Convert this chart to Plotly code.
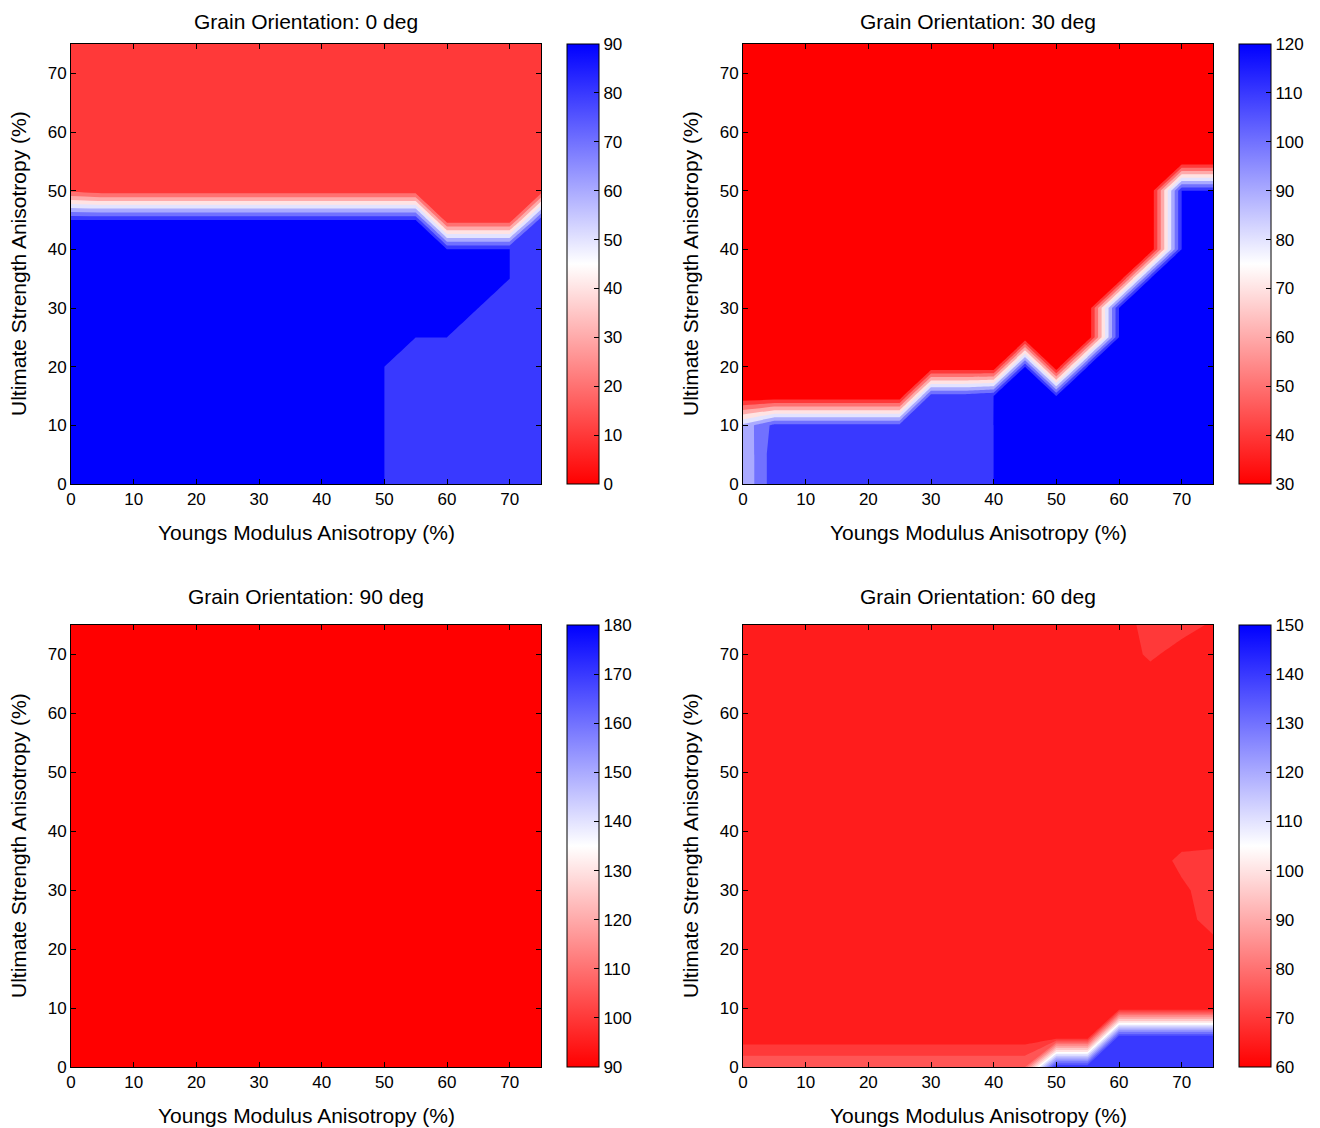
import plotly.graph_objects as go

W, H = 1320, 1128

# grid (percent)
x_grid = [0, 5, 10, 15, 20, 25, 30, 35, 40, 45, 50, 55, 60, 65, 70, 75]
y_grid = [0, 5, 10, 15, 20, 25, 30, 35, 40, 45, 50, 55, 60, 65, 70, 75]

x_ticks = [0, 10, 20, 30, 40, 50, 60, 70]
y_ticks = [0, 10, 20, 30, 40, 50, 60, 70]

# rows go from y=0 (first) to y=75 (last); columns x=0..75
z_0deg = [
    [90.01, 90.01, 90.01, 90.01, 90.01, 90.01, 90.01, 90.01, 90.01, 90.01, 90.01, 85, 85, 85, 85, 85],
    [90.01, 90.01, 90.01, 90.01, 90.01, 90.01, 90.01, 90.01, 90.01, 90.01, 90.01, 85, 85, 85, 85, 85],
    [90.01, 90.01, 90.01, 90.01, 90.01, 90.01, 90.01, 90.01, 90.01, 90.01, 90.01, 85, 85, 85, 85, 85],
    [90.01, 90.01, 90.01, 90.01, 90.01, 90.01, 90.01, 90.01, 90.01, 90.01, 90.01, 85, 85, 85, 85, 85],
    [90.01, 90.01, 90.01, 90.01, 90.01, 90.01, 90.01, 90.01, 90.01, 90.01, 90.01, 85, 85, 85, 85, 85],
    [90.01, 90.01, 90.01, 90.01, 90.01, 90.01, 90.01, 90.01, 90.01, 90.01, 90.01, 90.01, 90.01, 85, 85, 85],
    [90.01, 90.01, 90.01, 90.01, 90.01, 90.01, 90.01, 90.01, 90.01, 90.01, 90.01, 90.01, 90.01, 90.01, 85, 85],
    [90.01, 90.01, 90.01, 90.01, 90.01, 90.01, 90.01, 90.01, 90.01, 90.01, 90.01, 90.01, 90.01, 90.01, 90.01, 85],
    [90.01, 90.01, 90.01, 90.01, 90.01, 90.01, 90.01, 90.01, 90.01, 90.01, 90.01, 90.01, 90.01, 90.01, 90.01, 85],
    [90.01, 90.01, 90.01, 90.01, 90.01, 90.01, 90.01, 90.01, 90.01, 90.01, 90.01, 90.01, 13, 13, 13, 86],
    [17, 13, 13, 13, 13, 13, 13, 13, 13, 13, 13, 13, 13, 13, 13, 13],
    [17, 13, 13, 13, 13, 13, 13, 13, 13, 13, 13, 13, 13, 13, 13, 13],
    [17, 13, 13, 13, 13, 13, 13, 13, 13, 13, 13, 13, 13, 13, 13, 13],
    [17, 13, 13, 13, 13, 13, 13, 13, 13, 13, 13, 13, 13, 13, 13, 13],
    [17, 13, 13, 13, 13, 13, 13, 13, 13, 13, 13, 13, 13, 13, 13, 13],
    [17, 13, 13, 13, 13, 13, 13, 13, 13, 13, 13, 13, 13, 13, 13, 13],
]

z_30deg = [
    [91, 116, 116, 116, 116, 116, 116, 116, 120.01, 120.01, 120.01, 120.01, 120.01, 120.01, 120.01, 120.01],
    [91, 116, 116, 116, 116, 116, 116, 116, 120.01, 120.01, 120.01, 120.01, 120.01, 120.01, 120.01, 120.01],
    [93, 113, 113, 113, 113, 113, 116, 116, 120.01, 120.01, 120.01, 120.01, 120.01, 120.01, 120.01, 120.01],
    [30, 30, 30, 30, 30, 30, 115, 115, 120.01, 120.01, 120.01, 120.01, 120.01, 120.01, 120.01, 120.01],
    [30, 30, 30, 30, 30, 30, 30, 30, 30, 120.01, 30, 120.01, 120.01, 120.01, 120.01, 120.01],
    [30, 30, 30, 30, 30, 30, 30, 30, 30, 30, 30, 30, 120.01, 120.01, 120.01, 120.01],
    [30, 30, 30, 30, 30, 30, 30, 30, 30, 30, 30, 30, 120.01, 120.01, 120.01, 120.01],
    [30, 30, 30, 30, 30, 30, 30, 30, 30, 30, 30, 30, 30, 120.01, 120.01, 120.01],
    [30, 30, 30, 30, 30, 30, 30, 30, 30, 30, 30, 30, 30, 30, 120.01, 120.01],
    [30, 30, 30, 30, 30, 30, 30, 30, 30, 30, 30, 30, 30, 30, 120.01, 120.01],
    [30, 30, 30, 30, 30, 30, 30, 30, 30, 30, 30, 30, 30, 30, 120.01, 120.01],
    [30, 30, 30, 30, 30, 30, 30, 30, 30, 30, 30, 30, 30, 30, 30, 30],
    [30, 30, 30, 30, 30, 30, 30, 30, 30, 30, 30, 30, 30, 30, 30, 30],
    [30, 30, 30, 30, 30, 30, 30, 30, 30, 30, 30, 30, 30, 30, 30, 30],
    [30, 30, 30, 30, 30, 30, 30, 30, 30, 30, 30, 30, 30, 30, 30, 30],
    [30, 30, 30, 30, 30, 30, 30, 30, 30, 30, 30, 30, 30, 30, 30, 30],
]

z_90deg = [
    [90, 90, 90, 90, 90, 90, 90, 90, 90, 90, 90, 90, 90, 90, 90, 90],
    [90, 90, 90, 90, 90, 90, 90, 90, 90, 90, 90, 90, 90, 90, 90, 90],
    [90, 90, 90, 90, 90, 90, 90, 90, 90, 90, 90, 90, 90, 90, 90, 90],
    [90, 90, 90, 90, 90, 90, 90, 90, 90, 90, 90, 90, 90, 90, 90, 90],
    [90, 90, 90, 90, 90, 90, 90, 90, 90, 90, 90, 90, 90, 90, 90, 90],
    [90, 90, 90, 90, 90, 90, 90, 90, 90, 90, 90, 90, 90, 90, 90, 90],
    [90, 90, 90, 90, 90, 90, 90, 90, 90, 90, 90, 90, 90, 90, 90, 90],
    [90, 90, 90, 90, 90, 90, 90, 90, 90, 90, 90, 90, 90, 90, 90, 90],
    [90, 90, 90, 90, 90, 90, 90, 90, 90, 90, 90, 90, 90, 90, 90, 90],
    [90, 90, 90, 90, 90, 90, 90, 90, 90, 90, 90, 90, 90, 90, 90, 90],
    [90, 90, 90, 90, 90, 90, 90, 90, 90, 90, 90, 90, 90, 90, 90, 90],
    [90, 90, 90, 90, 90, 90, 90, 90, 90, 90, 90, 90, 90, 90, 90, 90],
    [90, 90, 90, 90, 90, 90, 90, 90, 90, 90, 90, 90, 90, 90, 90, 90],
    [90, 90, 90, 90, 90, 90, 90, 90, 90, 90, 90, 90, 90, 90, 90, 90],
    [90, 90, 90, 90, 90, 90, 90, 90, 90, 90, 90, 90, 90, 90, 90, 90],
    [90, 90, 90, 90, 90, 90, 90, 90, 90, 90, 90, 90, 90, 90, 90, 90],
]

z_60deg = [
    [79.9, 79.9, 79.9, 79.9, 79.9, 79.9, 79.9, 79.9, 79.9, 79.9, 144.9, 144.9, 143, 143, 143, 143],
    [67, 67, 67, 67, 67, 67, 67, 67, 67, 67, 67, 67, 144.5, 144.5, 144.5, 144.5],
    [67, 67, 67, 67, 67, 67, 67, 67, 67, 67, 67, 67, 65.5, 65.5, 65.5, 65.5],
    [67, 67, 67, 67, 67, 67, 67, 67, 67, 67, 67, 67, 67, 67, 67, 67],
    [67, 67, 67, 67, 67, 67, 67, 67, 67, 67, 67, 67, 67, 67, 67, 67],
    [67, 67, 67, 67, 67, 67, 67, 67, 67, 67, 67, 67, 67, 67, 67, 73],
    [67, 67, 67, 67, 67, 67, 67, 67, 67, 67, 67, 67, 67, 67, 69, 72.5],
    [67, 67, 67, 67, 67, 67, 67, 67, 67, 67, 67, 67, 67, 67, 71.3, 72],
    [67, 67, 67, 67, 67, 67, 67, 67, 67, 67, 67, 67, 67, 67, 67, 67],
    [67, 67, 67, 67, 67, 67, 67, 67, 67, 67, 67, 67, 67, 67, 67, 67],
    [67, 67, 67, 67, 67, 67, 67, 67, 67, 67, 67, 67, 67, 67, 67, 67],
    [67, 67, 67, 67, 67, 67, 67, 67, 67, 67, 67, 67, 67, 67, 67, 67],
    [67, 67, 67, 67, 67, 67, 67, 67, 67, 67, 67, 67, 67, 67, 67, 67],
    [67, 67, 67, 67, 67, 67, 67, 67, 67, 67, 67, 67, 67, 67, 67, 67],
    [67, 67, 67, 67, 67, 67, 67, 67, 67, 67, 67, 67, 67, 70.95, 67.8, 67],
    [67, 67, 67, 67, 67, 67, 67, 67, 67, 67, 67, 67, 67, 72.4, 72, 69.3],
]

titles = ["Grain Orientation: 0 deg", "Grain Orientation: 30 deg",
          "Grain Orientation: 90 deg", "Grain Orientation: 60 deg"]
z_sets = [z_0deg, z_30deg, z_90deg, z_60deg]
c_min = [0, 30, 90, 60]
c_max = [90, 120, 180, 150]
level_step = [10, 10, 10, 5]

x_title = "Youngs Modulus Anisotropy (%)"
y_title = "Ultimate Strength Anisotropy (%)"

RWB = [[0.0, "rgb(255,0,0)"], [0.5, "rgb(255,255,255)"], [1.0, "rgb(0,0,255)"]]
FONT = "Liberation Sans, Arial, Helvetica, sans-serif"

# pixel boxes (left, top, right, bottom) of each plot area, colorbar left, title centre
boxes = [(71, 44, 541, 484), (743, 44, 1213, 484),
         (71, 625, 541, 1067), (743, 625, 1213, 1067)]
cbar_left = [567, 1239, 567, 1239]
title_y = [22, 22, 596, 596]

fig = go.Figure()
layout = dict(
    width=W, height=H,
    margin=dict(l=0, r=0, t=0, b=0, pad=0, autoexpand=False),
    paper_bgcolor="white", plot_bgcolor="white",
    font=dict(family=FONT, size=17, color="black"),
    showlegend=False,
)
annotations = []

for k in range(4):
    L, T, R, B = boxes[k]
    ax_id = "" if k == 0 else str(k + 1)
    xa, ya = "x" + ax_id, "y" + ax_id
    cs = level_step[k]
    fig.add_trace(go.Contour(
        x=x_grid, y=y_grid, z=z_sets[k],
        xaxis=xa, yaxis=ya,
        autocontour=False,
        contours=dict(start=c_min[k] + cs, end=c_max[k], size=cs,
                      coloring="fill", showlines=False),
        line=dict(width=0, smoothing=0),
        colorscale=RWB, showscale=False, hoverinfo="skip",
    ))
    cb_len = (B - T) / H
    fig.add_trace(go.Scatter(
        x=[None], y=[None], mode="markers", xaxis=xa, yaxis=ya,
        marker=dict(color=[c_min[k]], cmin=c_min[k], cmax=c_max[k],
                    colorscale=RWB, showscale=True,
                    colorbar=dict(
                        x=cbar_left[k] / W, xanchor="left",
                        y=1 - (T + B) / 2 / H, yanchor="middle",
                        len=cb_len, lenmode="fraction",
                        thickness=32, thicknessmode="pixels",
                        xpad=0, ypad=0,
                        outlinewidth=1, outlinecolor="black",
                        ticks="inside", ticklen=5, tickcolor="black",
                        tickvals=list(range(c_min[k], c_max[k] + 1, 10)),
                        tickfont=dict(family=FONT, size=17, color="black"),
                    )),
        hoverinfo="skip", showlegend=False,
    ))
    axis_common = dict(
        range=[0, 75], showgrid=False, zeroline=False,
        showline=True, linecolor="black", linewidth=1, mirror="allticks",
        ticks="inside", ticklen=5, tickcolor="black", tickwidth=1,
        tickfont=dict(family=FONT, size=17, color="black"),
    )
    layout["xaxis" + ax_id] = dict(axis_common, domain=[L / W, R / W],
                                   anchor=ya, tickvals=x_ticks)
    layout["yaxis" + ax_id] = dict(axis_common, domain=[1 - B / H, 1 - T / H],
                                   anchor=xa, tickvals=y_ticks)
    cx = (L + R) / 2 / W
    annotations.append(dict(text=titles[k], x=cx, y=1 - title_y[k] / H,
                            xref="paper", yref="paper", showarrow=False,
                            xanchor="center", yanchor="middle",
                            font=dict(family=FONT, size=21, color="black")))
    annotations.append(dict(text=x_title, x=cx, y=1 - (B + 48) / H,
                            xref="paper", yref="paper", showarrow=False,
                            xanchor="center", yanchor="middle",
                            font=dict(family=FONT, size=21, color="black")))
    annotations.append(dict(text=y_title, x=(L - 53) / W, y=1 - (T + B) / 2 / H,
                            xref="paper", yref="paper", showarrow=False,
                            xanchor="center", yanchor="middle", textangle=-90,
                            font=dict(family=FONT, size=21, color="black")))

layout["annotations"] = annotations
fig.update_layout(**layout)
fig.write_html("out.html")
